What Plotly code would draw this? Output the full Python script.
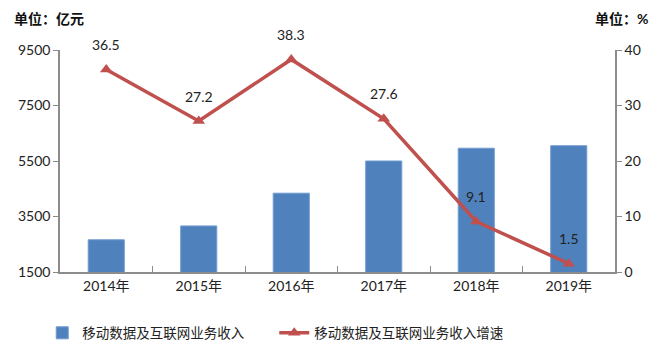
import plotly.graph_objects as go

years = ["2014年", "2015年", "2016年", "2017年", "2018年", "2019年"]
revenue = [2660, 3160, 4340, 5500, 5960, 6050]
growth = [36.5, 27.2, 38.3, 27.6, 9.1, 1.5]
growth_labels = ["36.5", "27.2", "38.3", "27.6", "9.1", "1.5"]

FONT = "Lato, 'Noto Sans CJK SC', sans-serif"
BLUE = "#4F81BD"
RED = "#C0504D"
AXIS = "#8c8c8c"

fig = go.Figure()
fig.add_trace(go.Bar(
    x=years, y=revenue, name="移动数据及互联网业务收入",
    marker=dict(color=BLUE, line=dict(color="#6f9bd0", width=1)),
    width=0.39, yaxis="y",
))
fig.add_trace(go.Scatter(
    x=years, y=growth, name="移动数据及互联网业务收入增速",
    mode="lines+markers",
    line=dict(color=RED, width=3.5),
    marker=dict(symbol="triangle-up", size=11, color=RED),
    yaxis="y2",
))

for xv, yv, lab in zip(years, growth, growth_labels):
    fig.add_annotation(x=xv, y=yv, xref="x", yref="y2", text=lab,
                       showarrow=False, yshift=25,
                       font=dict(family=FONT, size=14, color="#222"))

fig.add_annotation(x=-0.0865, y=1, xref="paper", yref="paper", xanchor="left", yanchor="middle",
                   text="<b>单位：亿元</b>", showarrow=False, yshift=32,
                   font=dict(family=FONT, size=14, color="#111"))
fig.add_annotation(x=1.063, y=1, xref="paper", yref="paper", xanchor="right", yanchor="middle",
                   text="<b>单位：%</b>", showarrow=False, yshift=32,
                   font=dict(family=FONT, size=14, color="#111"))

fig.update_layout(
    width=655, height=352,
    margin=dict(l=52, r=48, t=42, b=88, autoexpand=False),
    paper_bgcolor="white", plot_bgcolor="white",
    font=dict(family=FONT, size=14, color="#222"),
    xaxis=dict(
        type="category", showline=True, linecolor=AXIS, linewidth=1.5,
        ticks="inside", tickson="boundaries", ticklen=6, tickcolor=AXIS,
        tickfont=dict(family=FONT, size=14, color="#222"),
        showgrid=False, automargin=False,
    ),
    yaxis=dict(
        range=[1500, 9500], dtick=2000, tick0=1500,
        showline=True, linecolor=AXIS, linewidth=1.5,
        ticks="outside", ticklen=5, tickcolor=AXIS,
        showgrid=False, zeroline=False, automargin=False,
        tickfont=dict(family=FONT, size=14, color="#222"),
    ),
    yaxis2=dict(
        range=[0, 40], dtick=10, overlaying="y", side="right",
        showline=True, linecolor=AXIS, linewidth=1.5,
        ticks="outside", ticklen=5, tickcolor=AXIS,
        showgrid=False, zeroline=False, automargin=False,
        tickfont=dict(family=FONT, size=14, color="#222"),
    ),
    legend=dict(
        orientation="h", x=-0.032, y=-0.275, xanchor="left", yanchor="middle",
        font=dict(family=FONT, size=13.5, color="#222"),
        traceorder="normal", entrywidth=187, entrywidthmode="pixels",
    ),
    showlegend=True,
)

fig.write_html("out.html")
